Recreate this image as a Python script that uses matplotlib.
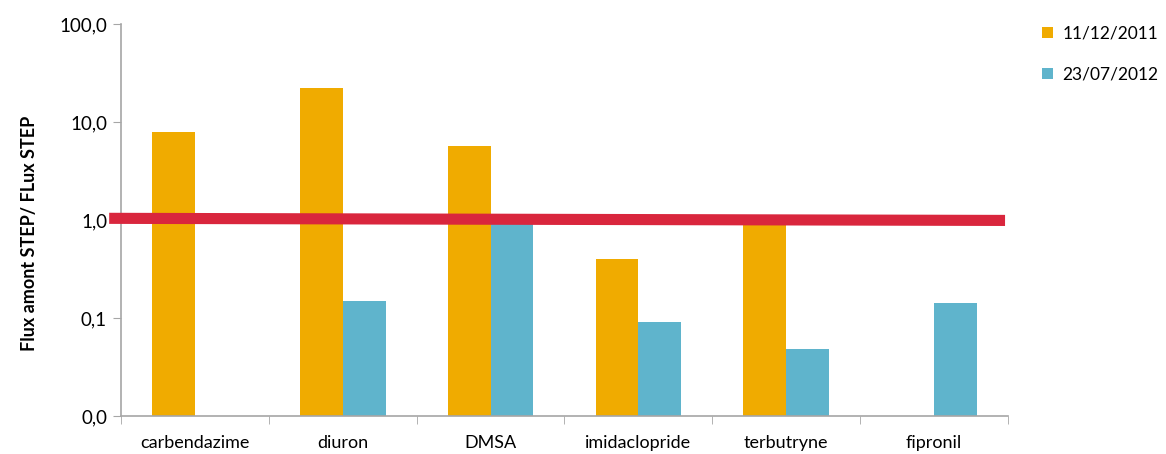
import matplotlib
matplotlib.use("Agg")
import matplotlib.pyplot as plt
import numpy as np
from matplotlib.ticker import FixedLocator, FuncFormatter, NullLocator

categories = ["carbendazime", "diuron", "DMSA", "imidaclopride", "terbutryne", "fipronil"]
series_names = ["11/12/2011", "23/07/2012"]
vals_2011 = [7.9, 22.2, 5.7, 0.40, 0.91, np.nan]
vals_2012 = [np.nan, 0.149, 0.91, 0.091, 0.048, 0.142]
y_ticks = [0.01, 0.1, 1, 10, 100]
ref_line = [1.04, 0.99]  # red reference line, left and right ends

colors = ["#F0AB00", "#5FB4CC"]
red = "#D9263D"
grey = "#A6A6A6"

plt.rcParams['font.family'] = ['Lato', 'DejaVu Sans']

fig = plt.figure(figsize=(11.66, 4.54), dpi=100)
ax = fig.add_axes([121/1166, 1-416/454, (1008-121)/1166, (416-24)/454])

x = np.arange(len(categories))
w = 0.29
ax.bar(x - w/2, vals_2011, width=w, color=colors[0], label=series_names[0], zorder=2)
ax.bar(x + w/2, vals_2012, width=w, color=colors[1], label=series_names[1], zorder=2)

ax.set_yscale("log")
ax.set_ylim(0.01, 100)
ax.set_xlim(-0.5, len(categories) - 0.5)
ax.yaxis.set_major_locator(FixedLocator(y_ticks))
ax.yaxis.set_minor_locator(NullLocator())
ax.yaxis.set_major_formatter(FuncFormatter(lambda v, p: f"{v:.1f}".replace(".", ",")))

ax.plot([-0.58, len(categories) - 0.52], ref_line, color=red, lw=8, solid_capstyle="butt",
        zorder=3, clip_on=False)

ax.set_xticks(x)
ax.set_xticklabels(categories)
ax.xaxis.set_minor_locator(FixedLocator(np.arange(-0.5, len(categories), 1.0)))
ax.tick_params(axis="x", which="major", length=0, pad=14, labelsize=13)
ax.tick_params(axis="x", which="minor", length=6, color=grey, direction="out")
ax.tick_params(axis="y", which="major", length=6, color=grey, labelsize=13.5, pad=4)

for s in ["top", "right"]:
    ax.spines[s].set_visible(False)
for s in ["left", "bottom"]:
    ax.spines[s].set_color(grey)
    ax.spines[s].set_linewidth(1.2)

fig.text(30/1166, 1-233/454, "Flux amont STEP/ FLux STEP", rotation=90, fontsize=13,
         fontweight="bold", ha="center", va="center")

leg = fig.legend(loc="upper left", bbox_to_anchor=(1026/1166, 1-10/454), frameon=False,
                 fontsize=12.5, handlelength=0.65, handleheight=0.65, handletextpad=0.55,
                 labelspacing=1.45)

fig.savefig("out.png", dpi=100)
